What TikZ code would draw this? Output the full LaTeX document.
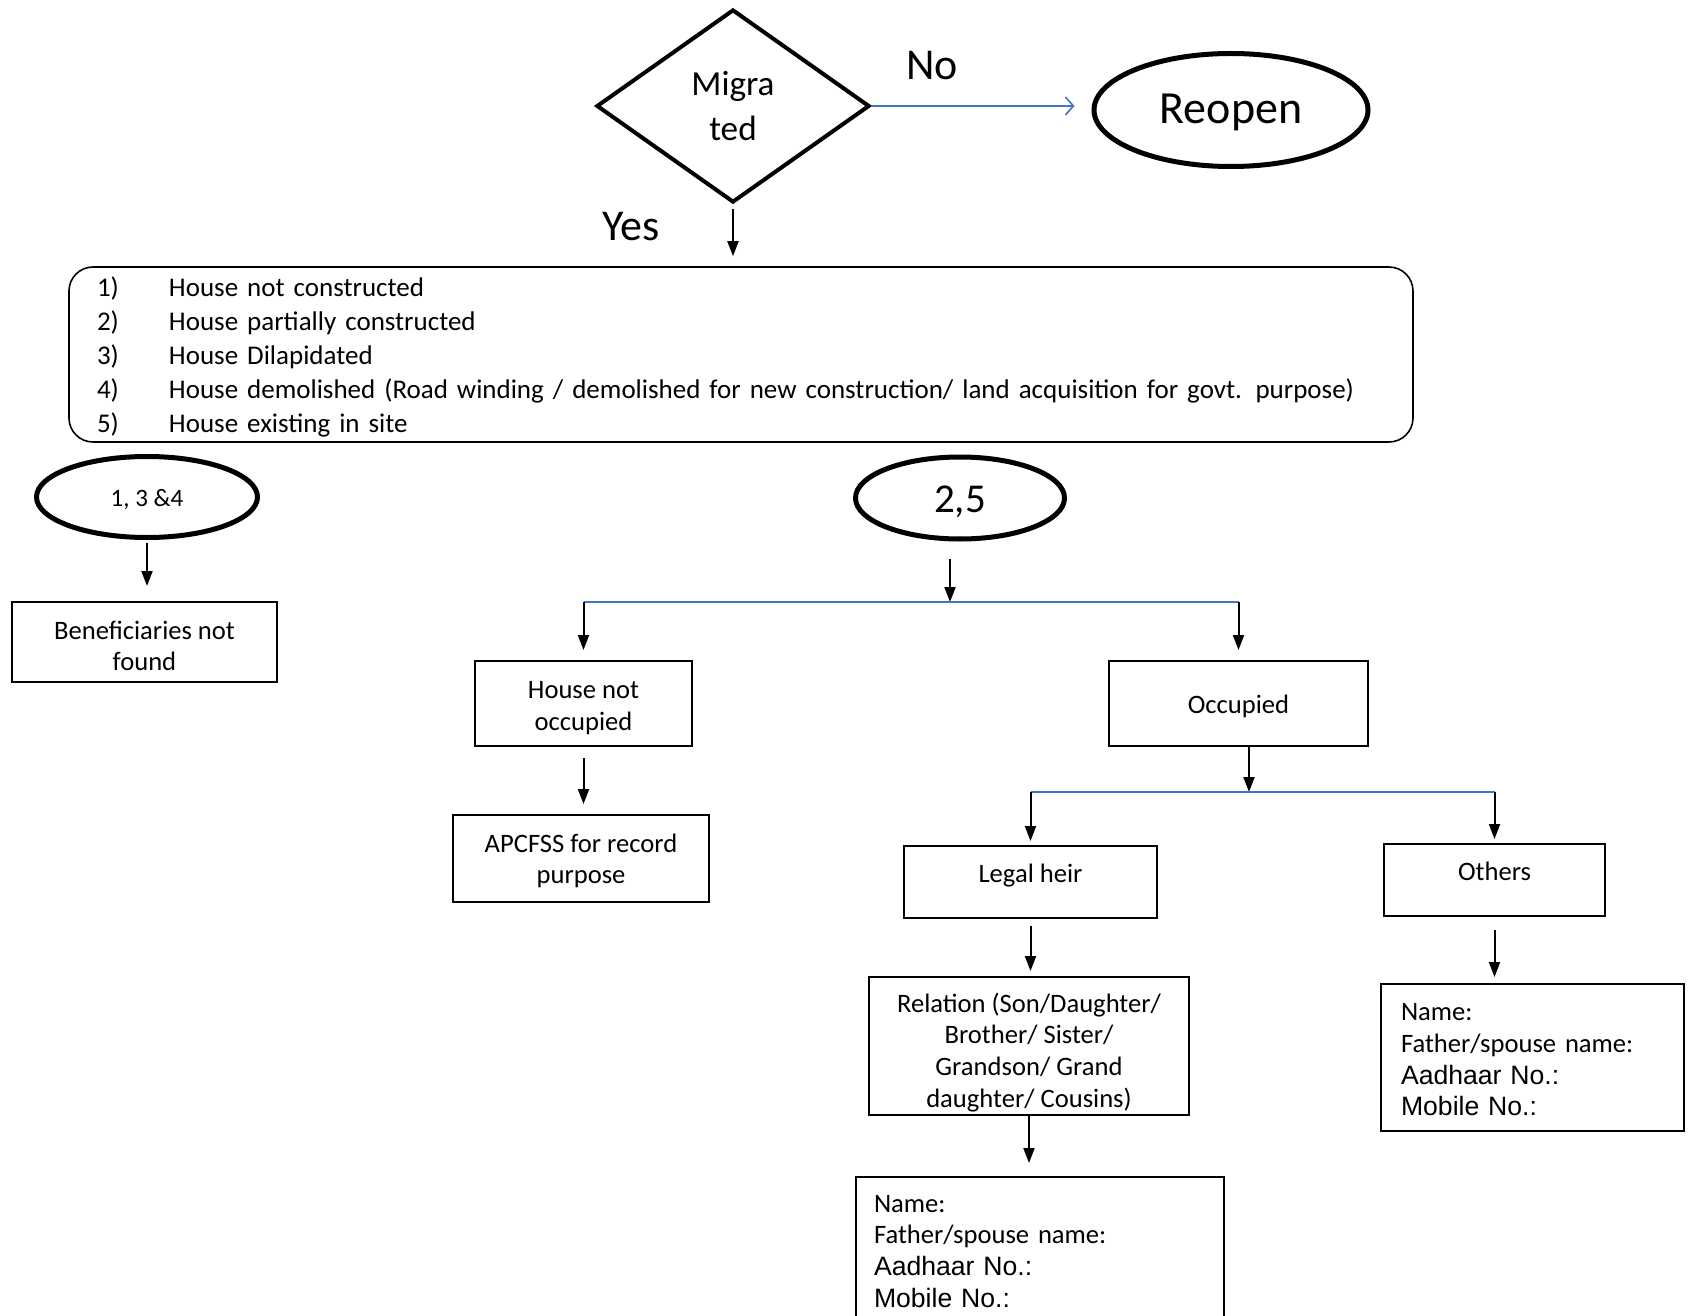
\documentclass[tikz,border=0pt]{standalone}
\usepackage{fontspec}
\setmainfont{Carlito}
\newfontfamily\arialfont{Liberation Sans}
\usepackage{xcolor}
\usetikzlibrary{shapes.geometric, arrows.meta, positioning}
\definecolor{linkblue}{RGB}{68,114,196}
\newcommand{\tstrut}[1]{\rule{0pt}{#1}}

\begin{document}
\begin{tikzpicture}[x=0.5pt, y=-0.5pt,
  dia/.style={diamond, draw, line width=2pt, inner sep=0pt, minimum width=136.5pt, minimum height=96.5pt, align=center, font=\fontsize{17.6}{22.5}\selectfont},
  oval/.style={ellipse, draw, line width=2.5pt, inner sep=0pt},
  box/.style={rectangle, draw, line width=1pt, inner sep=0pt, align=center, font=\fontsize{13.3}{15.9}\selectfont},
  lbox/.style={rectangle, draw, rounded corners=12pt, line width=0.8pt, minimum width=672pt, minimum height=87.5pt, text width=644pt, align=left, inner xsep=14pt, inner ysep=0pt, font=\fontsize{13.5}{16.9}\selectfont},
  lbl/.style={font=\fontsize{22}{26}\selectfont},
  arr/.style={-{Triangle[length=7.5pt,width=5.5pt]}, line width=1pt},
  bluearr/.style={-{Straight Barb[length=4pt,width=9pt]}, draw=linkblue, line width=0.8pt},
  blueline/.style={draw=linkblue, line width=0.8pt}]
\useasboundingbox (0,0) rectangle (1692,1316);
\clip (0,0) rectangle (1692,1316);

% decision
\node[dia] (mig) at (733,106) {Migra\\ted};
\node[oval, minimum width=137pt, minimum height=56.5pt, text height=19pt, text depth=5pt, font=\fontsize{23}{27}\selectfont] (reopen) at (1231,110) {Reopen};
\node[lbl] (no) at (932,66) {No};
\node[lbl] (yes) at (631,227) {Yes};
\draw[bluearr, shorten >=8.5pt] (mig.east) -- (mig.east -| reopen.west);

% conditions
\node[lbox] (conds) at (741,354.5) {\raisebox{-1.6pt}[\height][\depth]{\begin{tabular}{@{}p{36pt}@{}l@{}}
1) & House not constructed\\
2) & House partially constructed\\
3) & House Dilapidated\\
4) & House demolished (Road winding / demolished for new construction/ land acquisition for govt. purpose)\\
5) & House existing in site
\end{tabular}}};
\draw[arr, shorten <=2.5pt, shorten >=5pt] (mig.south) -- (mig.south |- conds.north);

% groups
\node[oval, minimum width=110.5pt, minimum height=40.5pt, text height=11.1pt, text depth=1.6pt, font=\fontsize{12.5}{15}\selectfont] (grpa) at (147,497) {1, 3 \&4};
\node[oval, minimum width=104.5pt, minimum height=41pt, text height=17.4pt, text depth=2.7pt, font=\fontsize{20.5}{24}\selectfont] (grpb) at (960,498) {2,5};

\node[box, minimum width=132.5pt, minimum height=40pt] (notfound) at (144.5,642) {\tstrut{13pt}Beneficiaries not\\found};
\draw[arr, shorten <=1.5pt, shorten >=7.5pt] (grpa.south) -- (grpa.south |- notfound.north);

% 2,5 branch
\coordinate (split1) at (950,602);
\node[box, minimum width=108.5pt, minimum height=42.5pt] (vacant) at (583.5,703.5) {\tstrut{13pt}House not\\occupied};
\node[box, minimum width=129.5pt, minimum height=42.5pt, text height=12.5pt, text depth=2.8pt] (occ) at (1238.5,703.5) {Occupied};
\draw[arr, shorten <=8.5pt] (grpb.south -| split1) -- (split1);
\draw[blueline] (vacant.north |- split1) -- (occ.north |- split1);
\draw[arr, shorten >=5pt] (vacant.north |- split1) -- (vacant.north);
\draw[arr, shorten >=5pt] (occ.north |- split1) -- (occ.north);

\node[box, minimum width=128pt, minimum height=43.5pt] (apcfss) at (581,858.5) {\tstrut{11.7pt}APCFSS for record\\purpose};
\draw[arr, shorten <=5.5pt, shorten >=5pt] (vacant.south) -- (vacant.south |- apcfss.north);

% occupied
\coordinate (split2) at (1249,792);
\node[box, minimum width=126.5pt, minimum height=36pt, text depth=8.8pt] (heir) at (1030.5,882) {Legal heir};
\node[box, minimum width=110.5pt, minimum height=36pt, text depth=8.8pt] (others) at (1494.5,880) {Others};
\draw[arr] (occ.south -| split2) -- (split2);
\draw[blueline] (heir.north |- split2) -- (others.north |- split2);
\draw[arr, shorten >=2pt] (heir.north |- split2) -- (heir.north);
\draw[arr, shorten >=2pt] (others.north |- split2) -- (others.north);

\node[box, minimum width=160pt, minimum height=69pt] (relation) at (1029,1046) {\tstrut{16pt}Relation (Son/Daughter/\\Brother/ Sister/\\Grandson/ Grand\\daughter/ Cousins)};
\draw[arr, shorten <=3.5pt, shorten >=2.5pt] (heir.south) -- (heir.south |- relation.north);

\node[box, anchor=north, text width=166pt, align=left, inner sep=9pt] (heirinfo) at (1040,1176) {Name:\\Father/spouse name:\\{\arialfont Aadhaar No.:}\\{\arialfont Mobile No.:}};
\draw[arr, shorten >=6.5pt] (relation.south) -- (relation.south |- heirinfo.north);

\node[box, minimum height=73.5pt, text width=131.5pt, align=left, inner xsep=10pt] (othinfo) at (1532.5,1057.5) {\tstrut{10.8pt}Name:\\Father/spouse name:\\{\arialfont Aadhaar No.:}\\{\arialfont Mobile No.:}};
\draw[arr, shorten <=6.5pt, shorten >=3pt] (others.south) -- (others.south |- othinfo.north);
\end{tikzpicture}
\end{document}
